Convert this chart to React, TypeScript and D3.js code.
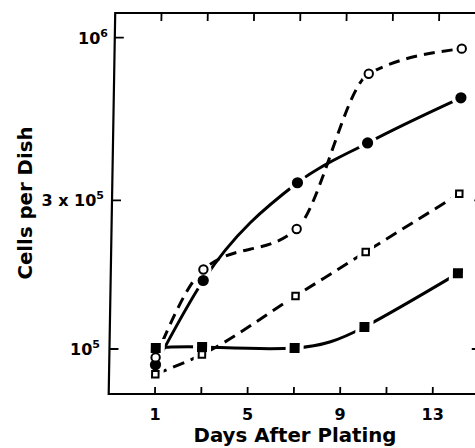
import React from "react";
import * as d3 from "d3";

const days = [1, 3, 7, 10, 14];
const openCircles = [94000, 180000, 243000, 766000, 922000];
const filledCircles = [89000, 166000, 342000, 459000, 641000];
const openSquares = [83000, 96000, 148000, 205000, 315000];
const filledSquares = [100700, 101500, 100700, 117700, 175000];

const xTicks = [1, 3, 5, 7, 9, 11, 13];
const xTickLabels = [1, 5, 9, 13];
const yTicks = [1e6, 3e5, 1e5];

const W = 475;
const H = 448;
const left = 108.7;
const right = 479;
const top = 13;
const bottom = 394;

const x = d3.scaleLinear().domain([-1, 15]).range([left, right]);
const y = d3.scaleLog().domain([71700, 1.2e6]).range([bottom, top]);

const FONT = "'DejaVu Sans', sans-serif";

type Pt = [number, number];
const pts = (vals: number[]): Pt[] => days.map((d, i) => [d, vals[i]]);

const lineMono = d3
  .line<Pt>()
  .x((d) => x(d[0]))
  .y((d) => y(d[1]))
  .curve(d3.curveMonotoneX);
const lineNatural = d3
  .line<Pt>()
  .x((d) => x(d[0]))
  .y((d) => y(d[1]))
  .curve(d3.curveNatural);

export default function App() {
  const skew = `translate(0,${bottom}) skewX(-0.98) translate(0,${-bottom})`;
  const seriesMarkers = [
    { vals: openSquares, kind: "sq", filled: false },
    { vals: filledCircles, kind: "c", filled: true },
    { vals: openCircles, kind: "c", filled: false },
    { vals: filledSquares, kind: "sq", filled: true },
  ];
  const marker = (kind: string, filled: boolean, cx: number, cy: number, halo: boolean, key: string) => {
    if (kind === "c") {
      const r = filled ? 5.6 : 4.2;
      if (halo) return <circle key={key} cx={cx} cy={cy} r={r + 4} fill="#fff" />;
      return filled ? (
        <circle key={key} cx={cx} cy={cy} r={r} fill="#000" />
      ) : (
        <circle key={key} cx={cx} cy={cy} r={r} fill="#fff" stroke="#000" strokeWidth={2} />
      );
    }
    const s = filled ? 10 : 8.5;
    if (halo) return <rect key={key} x={cx - s / 2 - 4} y={cy - s / 2 - 4} width={s + 8} height={s + 8} fill="#fff" />;
    return filled ? (
      <rect key={key} x={cx - s / 2} y={cy - s / 2} width={s} height={s} fill="#000" />
    ) : (
      <rect key={key} x={cx - s / 2 + 1} y={cy - s / 2 + 1} width={s - 2} height={s - 2} fill="#fff" stroke="#000" strokeWidth={2} />
    );
  };

  return (
    <svg width={W} height={H} style={{ display: "block", position: "absolute", left: 0, top: 0, background: "#fff" }}>
      <rect x={0} y={0} width={W} height={H} fill="#fff" />
      <g transform={skew}>
        {/* series lines */}
        <path d={lineMono(pts(openCircles)) || ""} fill="none" stroke="#000" strokeWidth={3} strokeDasharray="11,7" />
        <path d={lineMono(pts(filledCircles)) || ""} fill="none" stroke="#000" strokeWidth={3} />
        <path d={lineMono(pts(openSquares)) || ""} fill="none" stroke="#000" strokeWidth={3} strokeDasharray="12,7" />
        <path d={lineNatural(pts(filledSquares)) || ""} fill="none" stroke="#000" strokeWidth={3} />
        {/* halos */}
        {seriesMarkers.map((s, si) =>
          s.vals.map((v, i) => marker(s.kind, s.filled, x(days[i]), y(v), true, `h${si}-${i}`))
        )}
        {seriesMarkers.map((s, si) =>
          s.vals.map((v, i) => marker(s.kind, s.filled, x(days[i]), y(v), false, `m${si}-${i}`))
        )}
        {/* frame */}
        <rect x={left} y={top} width={right - left} height={bottom - top} fill="none" stroke="#000" strokeWidth={2.2} />
        {xTicks.map((t) => (
          <g key={`xt${t}`}>
            <line x1={x(t)} x2={x(t)} y1={bottom} y2={bottom - 7} stroke="#000" strokeWidth={1.8} />
            <line x1={x(t)} x2={x(t)} y1={top} y2={top + 8} stroke="#000" strokeWidth={1.8} />
          </g>
        ))}
        {yTicks.map((t) => (
          <g key={`yt${t}`}>
            <line x1={left} x2={left + 9} y1={y(t)} y2={y(t)} stroke="#000" strokeWidth={1.8} />
            <line x1={right} x2={right - 8} y1={y(t)} y2={y(t)} stroke="#000" strokeWidth={1.8} />
          </g>
        ))}
      </g>
      {/* x tick labels */}
      {xTickLabels.map((t) => (
        <text key={`xl${t}`} x={x(t)} y={420} textAnchor="middle" fontFamily={FONT} fontWeight="bold" fontSize={16}>
          {t}
        </text>
      ))}
      {/* y tick labels */}
      <text x={108} y={y(1e6) + 6} textAnchor="end" fontFamily={FONT} fontWeight="bold" fontSize={16}>
        10<tspan fontSize={11} dy={-7}>6</tspan>
      </text>
      <text x={104} y={y(3e5) + 6} textAnchor="end" fontFamily={FONT} fontWeight="bold" fontSize={16}>
        3 x 10<tspan fontSize={11} dy={-7}>5</tspan>
      </text>
      <text x={100} y={y(1e5) + 6} textAnchor="end" fontFamily={FONT} fontWeight="bold" fontSize={16}>
        10<tspan fontSize={11} dy={-7}>5</tspan>
      </text>
      {/* axis titles */}
      <text x={295} y={442} textAnchor="middle" fontFamily={FONT} fontWeight="bold" fontSize={19} textLength={203} lengthAdjust="spacingAndGlyphs">
        Days After Plating
      </text>
      <text
        transform="translate(32,203) rotate(-90)"
        textAnchor="middle"
        fontFamily={FONT}
        fontWeight="bold"
        fontSize={19}
        textLength={153}
        lengthAdjust="spacingAndGlyphs"
      >
        Cells per Dish
      </text>
    </svg>
  );
}
